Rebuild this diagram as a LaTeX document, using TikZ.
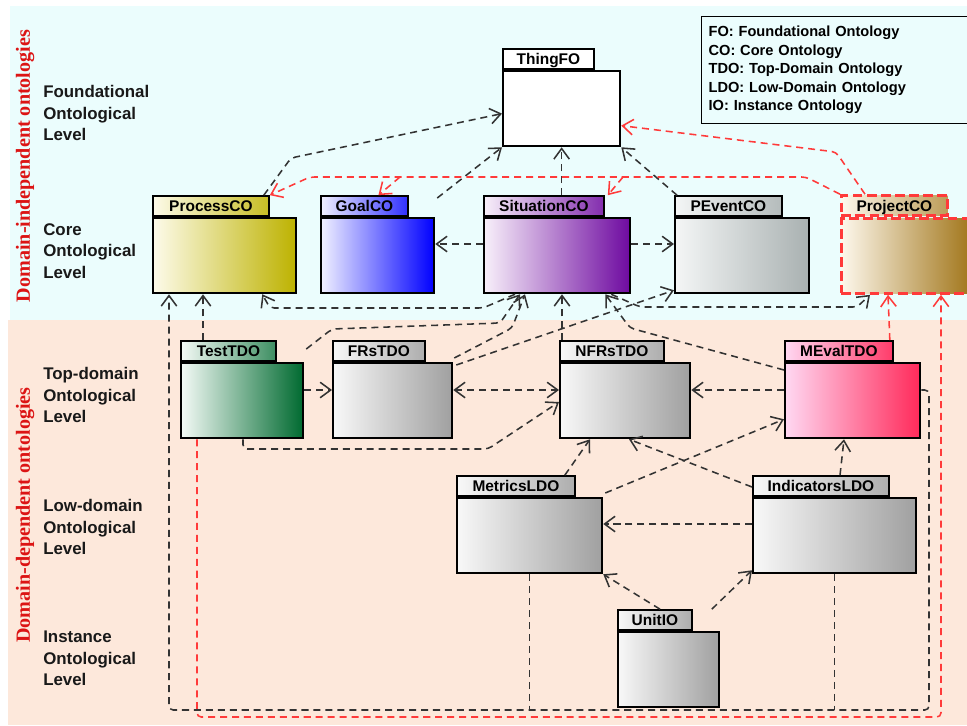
\documentclass[tikz,border=0pt]{standalone}
\usepackage{fontspec}
\setsansfont{Liberation Sans}
\newfontfamily\sideserif{Liberation Serif}
\usepackage{tikz}
\usetikzlibrary{positioning,arrows.meta,calc}
\definecolor{bg_cyan}{HTML}{EBFDFD}
\definecolor{bg_peach}{HTML}{FDE8DB}
\definecolor{side_red}{HTML}{DC1414}
\definecolor{dep_gray}{HTML}{333333}
\definecolor{dep_red}{HTML}{FF3A3A}
\definecolor{pk_cream}{HTML}{FDFBEA}
\definecolor{pk_olive}{HTML}{BDB200}
\definecolor{pk_lav}{HTML}{F0F0FF}
\definecolor{pk_blue}{HTML}{0000FF}
\definecolor{pk_lilac}{HTML}{F8F0FA}
\definecolor{pk_purple}{HTML}{6E0AA0}
\definecolor{pk_mist}{HTML}{F4F6F6}
\definecolor{pk_slate}{HTML}{A9B1B1}
\definecolor{pk_sand}{HTML}{FDF8EC}
\definecolor{pk_brown}{HTML}{9A6C0A}
\definecolor{pk_mint}{HTML}{F4FAF6}
\definecolor{pk_green}{HTML}{006A30}
\definecolor{pk_white}{HTML}{F8F8F8}
\definecolor{pk_gray}{HTML}{A0A0A0}
\definecolor{pk_pink}{HTML}{FFD8F2}
\definecolor{pk_rose}{HTML}{FF2A5A}
\newcommand{\pxu}{0.025cm}

\begin{document}
\begin{tikzpicture}[
        x=0.025cm, y=-0.025cm,
        >={Straight Barb[length=7.5pt,width=11pt]},
        body/.style={draw, line width=1.6pt, inner sep=0pt, anchor=north west, minimum height=75*\pxu},
        tab/.style={draw, line width=1.3pt, inner sep=0pt, anchor=south west, minimum height=20*\pxu,
            text height=8pt, text depth=0pt, font=\sffamily\bfseries\fontsize{11}{11}\selectfont},
        level/.style={align=left, anchor=north west, inner sep=0pt, text=black!90,
            font=\sffamily\bfseries\fontsize{12}{15.3}\selectfont},
        side/.style={rotate=90, text=side_red, font=\sideserif\bfseries\fontsize{14.3}{14.3}\selectfont},
        legend/.style={draw, line width=0.8pt, anchor=north west, inner xsep=7*\pxu, text width=255*\pxu,
            minimum height=107*\pxu, align=left, font=\sffamily\bfseries\fontsize{10.4}{13.1}\selectfont},
        dep/.style={draw=dep_gray, line width=1.1pt, dash pattern=on 5pt off 3.5pt, rounded corners=3pt, ->},
        reddep/.style={dep, draw=dep_red},
        bus/.style={draw=dep_gray, line width=1.1pt, dash pattern=on 5pt off 3.5pt}
    ]
    \useasboundingbox (0,0) rectangle (967,725);
    % the two bands
    \fill[bg_cyan] (10,6) rectangle (967,320);
    \fill[bg_peach] (8,320) rectangle (967,725);

    \node[side] (indep) at (25,166) {Domain-independent ontologies};
    \node[side] (dep) at (25,515) {Domain-dependent ontologies};

    \node[level] (lv-found) at (43,85) {Foundational\\Ontological\\Level};
    \node[level] (lv-core) at (43,223) {Core\\Ontological\\Level};
    \node[level] (lv-top) at (43,367) {Top-domain\\Ontological\\Level};
    \node[level] (lv-low) at (43,499) {Low-domain\\Ontological\\Level};
    \node[level] (lv-inst) at (43,631) {Instance\\Ontological\\Level};

    \node[legend] (legend) at (701,16) {FO: Foundational Ontology\\CO: Core Ontology\\TDO: Top-Domain Ontology\\LDO: Low-Domain Ontology\\IO: Instance Ontology};

    % packages
    \node[body, minimum width=117*\pxu, fill=white] (thing) at (502,70) {};
    \node[tab, minimum width=91*\pxu, fill=white] (thing-tab) at (thing.north west) {ThingFO};

    \node[body, minimum width=143*\pxu, left color=pk_cream, right color=pk_olive] (process) at (152,217) {};
    \node[tab, minimum width=116*\pxu, left color=pk_cream, right color=pk_olive!85!pk_cream] (process-tab) at (process.north west) {ProcessCO};
    \node[body, minimum width=113*\pxu, left color=pk_lav, right color=pk_blue] (goal) at (320,217) {};
    \node[tab, minimum width=87*\pxu, left color=pk_lav, right color=pk_blue!80!pk_lav] (goal-tab) at (goal.north west) {GoalCO};
    \node[body, minimum width=146*\pxu, left color=pk_lilac, right color=pk_purple] (situation) at (483,217) {};
    \node[tab, minimum width=120*\pxu, left color=pk_lilac, right color=pk_purple!85!pk_lilac] (situation-tab) at (situation.north west) {SituationCO};
    \node[body, minimum width=134*\pxu, left color=pk_mist, right color=pk_slate] (pevent) at (674,217) {};
    \node[tab, minimum width=107*\pxu, left color=pk_mist, right color=pk_slate!85!pk_mist] (pevent-tab) at (pevent.north west) {PEventCO};
    \node[body, minimum width=140*\pxu, left color=pk_sand, right color=pk_brown, draw=dep_red, line width=2pt, dash pattern=on 7pt off 3pt] (project) at (840,217) {};
    \node[tab, minimum width=106*\pxu, left color=pk_sand, right color=pk_brown!65!pk_sand, draw=dep_red, line width=2pt, dash pattern=on 7pt off 3pt] (project-tab) at (project.north west) {ProjectCO};

    \node[body, minimum width=122*\pxu, left color=pk_mint, right color=pk_green] (test) at (180,362) {};
    \node[tab, minimum width=95*\pxu, left color=pk_mint, right color=pk_green!75!pk_mint] (test-tab) at (test.north west) {TestTDO};
    \node[body, minimum width=119*\pxu, left color=pk_white, right color=pk_gray] (frs) at (332,362) {};
    \node[tab, minimum width=92*\pxu, left color=pk_white, right color=pk_gray!85!pk_white] (frs-tab) at (frs.north west) {FRsTDO};
    \node[body, minimum width=130*\pxu, left color=pk_white, right color=pk_gray] (nfrs) at (559,362) {};
    \node[tab, minimum width=104*\pxu, left color=pk_white, right color=pk_gray!85!pk_white] (nfrs-tab) at (nfrs.north west) {NFRsTDO};
    \node[body, minimum width=135*\pxu, left color=pk_pink, right color=pk_rose] (meval) at (784,362) {};
    \node[tab, minimum width=108*\pxu, left color=pk_pink, right color=pk_rose!90!pk_pink] (meval-tab) at (meval.north west) {MEvalTDO};

    \node[body, minimum width=145*\pxu, left color=pk_white, right color=pk_gray] (metrics) at (456,497) {};
    \node[tab, minimum width=118*\pxu, left color=pk_white, right color=pk_gray!85!pk_white] (metrics-tab) at (metrics.north west) {MetricsLDO};
    \node[body, minimum width=163*\pxu, left color=pk_white, right color=pk_gray] (indicators) at (752,497) {};
    \node[tab, minimum width=136*\pxu, left color=pk_white, right color=pk_gray!85!pk_white] (indicators-tab) at (indicators.north west) {IndicatorsLDO};

    \node[body, minimum width=101*\pxu, left color=pk_white, right color=pk_gray] (unit) at (617,631) {};
    \node[tab, minimum width=74*\pxu, left color=pk_white, right color=pk_gray!85!pk_white] (unit-tab) at (unit.north west) {UnitIO};

    % core -> foundational
    \draw[dep] ($(process-tab.north east)+(-6,0)$) -- (291,158) -- ($(thing.west)+(0,5)$);
    \draw[dep] ($(goal.north east)+(2,-19)$) -- (thing.south west);
    \draw[dep] (situation-tab.north -| thing.south) -- (thing.south);
    \draw[dep] ($(pevent-tab.north west)+(3,0)$) -- (thing.south east);
    \draw[dep] ($(situation.north west)+(0,27)$) -- ($(goal.north east)+(0,27)$);
    \draw[dep] ($(situation.north east)+(0,27)$) -- ($(pevent.north west)+(0,27)$);

    % ProjectCO
    \coordinate (red-goal) at (400,177);
    \coordinate (red-sit) at (623,177);
    \draw[reddep] ($(project-tab.north west)+(25,0)$) -- (836,152) -- ($(thing.east)+(0,17)$);
    \draw[reddep] (project-tab.north west) -- (806,177) -- (310,177) -- (process-tab.north east);
    \draw[reddep] (red-goal) -- ($(goal-tab.north)+(14,0)$);
    \draw[reddep] (red-sit) -- ($(situation-tab.north east)+(3,0)$);
    \draw[reddep] ($(meval-tab.north east)+(-4,0)$) -- ($(project.south west)+(48,0)$);
    \draw[reddep] ($(test.south west)+(17,0)$) -- (197,717) -- (941,717) -- ($(project.south west)+(101,0)$);

    % into ProcessCO
    \draw[dep] ($(meval.north east)+(0,28)$) -- (929,390) -- (929,710) -- (169,710) -- ($(process.south west)+(17,0)$);
    \draw[bus] (metrics.south) -- (metrics.south |- 0,710);
    \draw[bus] (indicators.south) -- (indicators.south |- 0,710);
    \draw[dep] ($(test-tab.north west)+(23,0)$) -- ($(process.south west)+(51,0)$);
    \draw[dep] ($(situation.south west)+(32,0)$) -- (483,308) -- (270,308) -- ($(process.south east)+(-35,0)$);
    \draw[dep] ($(situation.south east)+(-20,0)$) -- (640,307) -- (857,307) -- ($(project.south west)+(30,0)$);

    % top-domain -> core
    \draw[dep] ($(test.north east)+(2,-13)$) -- (332,329) -- (500,323) -- ($(situation.south west)+(37,0)$);
    \draw[dep] ($(frs.north east)+(1,-4)$) -- (512,328) -- ($(situation.south west)+(42,0)$);
    \draw[dep] ($(frs.north east)+(3,3)$) -- ($(pevent.south west)+(0,-4)$);
    \draw[dep] ($(nfrs-tab.north west)+(3,0)$) -- ($(situation.south west)+(79,0)$);
    \draw[dep] ($(meval.north west)+(0,8)$) -- (630,328) -- ($(situation.south east)+(-26,0)$);

    % within top-domain
    \draw[dep] ($(test.north east)+(0,28)$) -- ($(frs.north west)+(0,28)$);
    \draw[dep, <->] ($(frs.north east)+(0,28)$) -- ($(nfrs.north west)+(0,28)$);
    \draw[dep] ($(meval.north west)+(0,28)$) -- ($(nfrs.north east)+(0,28)$);
    \draw[dep] ($(test.south west)+(63,0)$) -- (243,449) -- (488,449) -- ($(nfrs.north west)+(0,40)$);

    % low-domain and instance
    \draw[dep] ($(metrics-tab.north east)+(-11,0)$) -- ($(nfrs.south west)+(31,0)$);
    \draw[dep] ($(indicators.north west)+(0,-10)$) -- ($(nfrs.south west)+(70,0)$);
    \draw[dep] ($(metrics.north east)+(2,-4)$) -- ($(meval.south west)+(0,-20)$);
    \draw[dep] ($(indicators-tab.north west)+(88,0)$) -- ($(meval.south west)+(60,0)$);
    \draw[dep] ($(indicators.north west)+(0,27)$) -- ($(metrics.north east)+(0,27)$);
    \draw[dep] ($(unit-tab.north west)+(43,0)$) -- (metrics.south east);
    \draw[dep] ($(unit-tab.north east)+(19,0)$) -- ($(indicators.south west)+(0,-4)$);
\end{tikzpicture}
\end{document}
